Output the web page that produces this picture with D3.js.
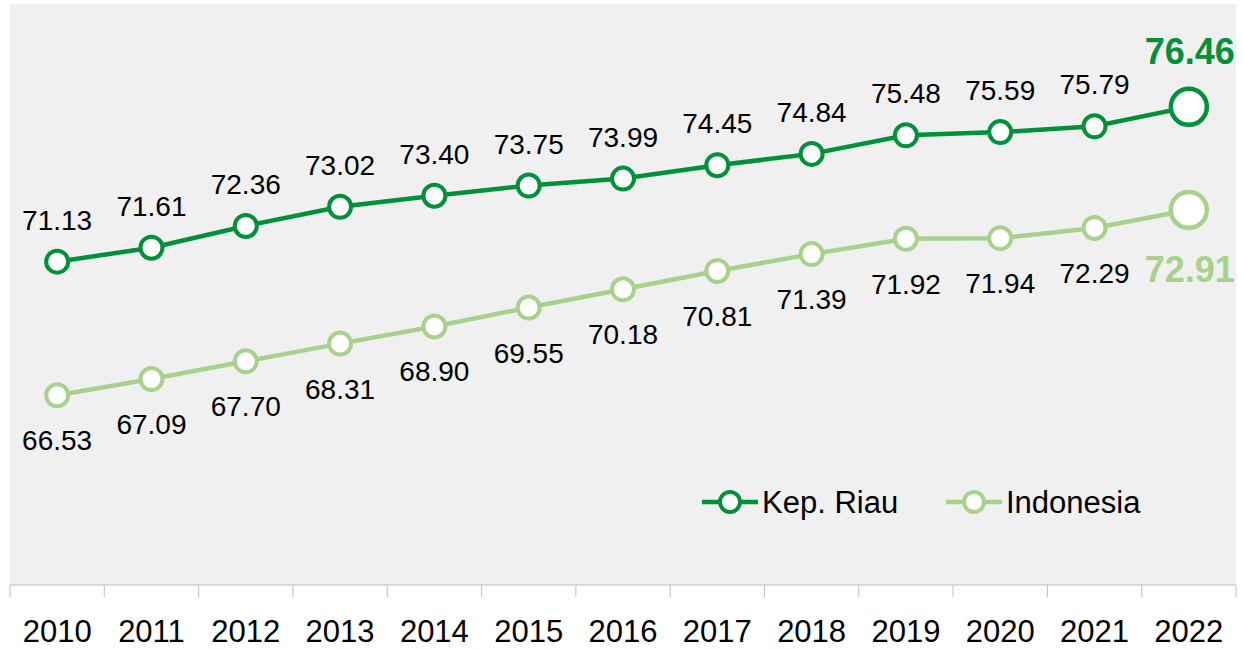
<!DOCTYPE html>
<html>
<head>
<meta charset="utf-8">
<script src="https://cdn.jsdelivr.net/npm/d3@7"></script>
<style>
  body { margin: 0; background: #ffffff; }
  text { font-family: "Liberation Sans", Arial, sans-serif; }
</style>
</head>
<body>
<div id="chart"></div>
<script>
// data
var years = ["2010","2011","2012","2013","2014","2015","2016","2017","2018","2019","2020","2021","2022"];
var kepRiau = [71.13, 71.61, 72.36, 73.02, 73.40, 73.75, 73.99, 74.45, 74.84, 75.48, 75.59, 75.79, 76.46];
var indonesia = [66.53, 67.09, 67.70, 68.31, 68.90, 69.55, 70.18, 70.81, 71.39, 71.92, 71.94, 72.29, 72.91];
var seriesNames = ["Kep. Riau", "Indonesia"];
var yDomain = [60, 80];

var W = 1243, H = 649;
var darkGreen = "#00913a", lightGreen = "#a9d18e";

var svg = d3.select("#chart").append("svg").attr("width", W).attr("height", H);

var plot = {left: 10, right: 1236, top: 4, bottom: 585};

svg.append("rect")
    .attr("x", plot.left).attr("y", plot.top)
    .attr("width", plot.right - plot.left).attr("height", plot.bottom - plot.top)
    .attr("fill", "#f0f0f0");

var x = d3.scaleBand().domain(years).range([plot.left, plot.right]);
var y = d3.scaleLinear().domain(yDomain).range([plot.bottom, plot.top]);
var cx = function(d, i) { return x(years[i]) + x.bandwidth() / 2; };

// x axis: line + ticks between categories
var axis = svg.append("g");
axis.append("line")
    .attr("x1", plot.left).attr("x2", plot.right)
    .attr("y1", plot.bottom).attr("y2", plot.bottom)
    .attr("stroke", "#bfbfbf").attr("stroke-width", 1);
axis.selectAll("line.tick")
    .data(years.concat(["end"]))
    .enter().append("line")
    .attr("class", "tick")
    .attr("x1", function(d, i) { return plot.left + i * x.bandwidth(); })
    .attr("x2", function(d, i) { return plot.left + i * x.bandwidth(); })
    .attr("y1", plot.bottom).attr("y2", plot.bottom + 12)
    .attr("stroke", "#bfbfbf").attr("stroke-width", 1);
axis.selectAll("text")
    .data(years)
    .enter().append("text")
    .attr("x", function(d) { return x(d) + x.bandwidth() / 2; })
    .attr("y", 642)
    .attr("text-anchor", "middle")
    .style("font-size", "31px")
    .attr("fill", "#000")
    .text(function(d) { return d; });

var line = d3.line()
    .x(cx)
    .y(function(d) { return y(d); });

function drawSeries(values, color, labelAbove) {
    var g = svg.append("g");
    g.append("path")
        .datum(values)
        .attr("d", line)
        .attr("fill", "none")
        .attr("stroke", color)
        .attr("stroke-width", 4.5);
    g.selectAll("circle")
        .data(values)
        .enter().append("circle")
        .attr("cx", cx)
        .attr("cy", function(d) { return y(d); })
        .attr("r", function(d, i) { return i == values.length - 1 ? 18 : 11; })
        .attr("fill", "#fff")
        .attr("stroke", color)
        .attr("stroke-width", function(d, i) { return i == values.length - 1 ? 4.5 : 4; });
    // labels, last one separately
    g.selectAll("text")
        .data(values.slice(0, -1))
        .enter().append("text")
        .attr("x", cx)
        .attr("y", function(d) { return labelAbove ? y(d) - 32 : y(d) + 55; })
        .attr("text-anchor", "middle")
        .style("font-size", "28px")
        .attr("fill", "#000")
        .text(function(d) { return d.toFixed(2); });
    var last = values[values.length - 1];
    g.append("text")
        .attr("x", cx(last, values.length - 1) + 1)
        .attr("y", labelAbove ? y(last) - 43 : y(last) + 72)
        .attr("text-anchor", "middle")
        .style("font-size", "36px")
        .style("font-weight", "bold")
        .attr("fill", color)
        .text(last.toFixed(2));
}

drawSeries(kepRiau, darkGreen, true);
drawSeries(indonesia, lightGreen, false);

// legend
var legend = svg.append("g");
var legendItems = [
    {name: seriesNames[0], color: darkGreen, x: 702},
    {name: seriesNames[1], color: lightGreen, x: 946}
];
legendItems.forEach(function(it) {
    legend.append("line")
        .attr("x1", it.x).attr("x2", it.x + 56)
        .attr("y1", 502).attr("y2", 502)
        .attr("stroke", it.color).attr("stroke-width", 4.5);
    legend.append("circle")
        .attr("cx", it.x + 28).attr("cy", 502).attr("r", 10)
        .attr("fill", "#fff").attr("stroke", it.color).attr("stroke-width", 4);
    legend.append("text")
        .attr("x", it.x + 60).attr("y", 513)
        .style("font-size", "31px")
        .attr("fill", "#000")
        .text(it.name);
});
</script>
</body>
</html>
